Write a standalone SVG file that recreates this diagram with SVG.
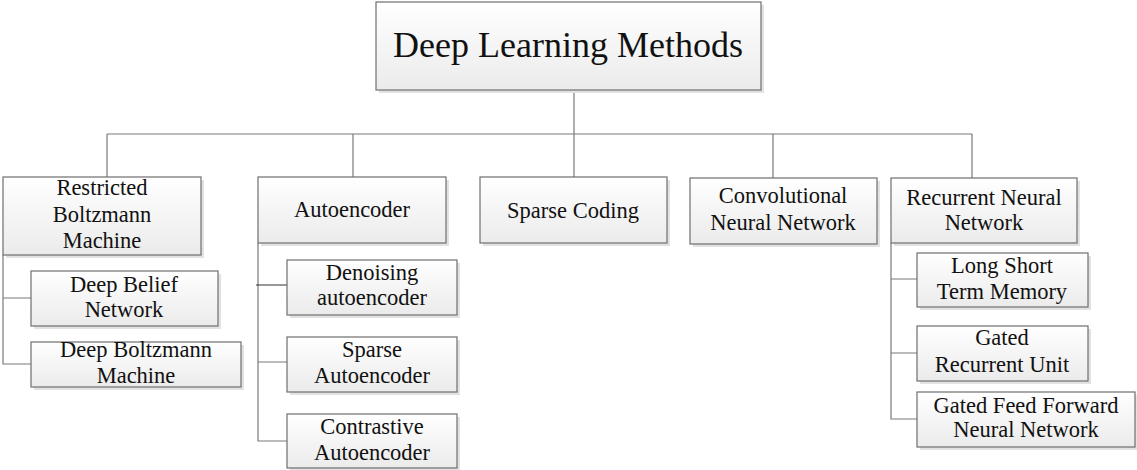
<svg xmlns="http://www.w3.org/2000/svg" width="1137" height="470" viewBox="0 0 1137 470">
<defs>
<linearGradient id="g" x1="0" y1="0" x2="0" y2="1">
<stop offset="0" stop-color="#ffffff"/>
<stop offset="1" stop-color="#ebebeb"/>
</linearGradient>
<style>
.box{fill:url(#g);stroke:#6e6e6e;stroke-width:1.2}
.sh{fill:#e2e2e2}
.t{font-family:'Liberation Serif',Tinos,'Times New Roman','DejaVu Serif',serif;font-size:22.5px;fill:#111;text-anchor:middle}
.big{font-size:36px}
.c{fill:none;stroke:#7a7a7a;stroke-width:1.2}
</style>
</defs>
<rect width="1137" height="470" fill="#fff"/>
<g id="connectors">
<path class="c" d="M574 90V134M107 134H972M107 134V177M353 134V177M574 134V177M773 134V178M972 134V178"/>
<path class="c" d="M3 255V364H31M3 298H31"/>
<path class="c" d="M258 243V441H287M258 362H287"/>
<path d="M256 285H289" fill="none" stroke="#333" stroke-width="1.2"/>
<path class="c" d="M891 243V419H917M891 279H917M891 353H917"/>
</g>
<g id="root">
<rect class="sh" x="379" y="5" width="385" height="88"/>
<rect class="box" x="376" y="2" width="385" height="88"/>
<text class="t big" x="568" y="57" font-family="Liberation Serif, serif">Deep Learning Methods</text>
</g>
<g id="rbm">
<rect class="sh" x="6" y="180" width="198" height="78"/>
<rect class="box" x="3" y="177" width="198" height="78"/>
<text class="t" x="102" y="195">Restricted</text>
<text class="t" x="102" y="222">Boltzmann</text>
<text class="t" x="102" y="248">Machine</text>
</g>
<g id="autoencoder">
<rect class="sh" x="261" y="180" width="188" height="66"/>
<rect class="box" x="258" y="177" width="188" height="66"/>
<text class="t" x="352" y="217">Autoencoder</text>
</g>
<g id="sparse-coding">
<rect class="sh" x="483" y="180" width="187" height="66"/>
<rect class="box" x="480" y="177" width="187" height="66"/>
<text class="t" x="573" y="218">Sparse Coding</text>
</g>
<g id="cnn">
<rect class="sh" x="693" y="181" width="187" height="66"/>
<rect class="box" x="690" y="178" width="187" height="66"/>
<text class="t" x="783" y="203">Convolutional</text>
<text class="t" x="783" y="230">Neural Network</text>
</g>
<g id="rnn">
<rect class="sh" x="894" y="181" width="186" height="65"/>
<rect class="box" x="891" y="178" width="186" height="65"/>
<text class="t" x="984" y="205">Recurrent Neural</text>
<text class="t" x="984" y="230">Network</text>
</g>
<g id="dbn">
<rect class="sh" x="34" y="274" width="187" height="55"/>
<rect class="box" x="31" y="271" width="187" height="55"/>
<text class="t" x="124" y="292">Deep Belief</text>
<text class="t" x="124" y="317">Network</text>
</g>
<g id="dbm">
<rect class="sh" x="34" y="345" width="210" height="45"/>
<rect class="box" x="31" y="342" width="210" height="45"/>
<text class="t" x="136" y="357">Deep Boltzmann</text>
<text class="t" x="136" y="383">Machine</text>
</g>
<g id="denoising">
<rect class="sh" x="290" y="263" width="170" height="55"/>
<rect class="box" x="287" y="260" width="170" height="55"/>
<text class="t" x="372" y="280">Denoising</text>
<text class="t" x="372" y="305">autoencoder</text>
</g>
<g id="sparse-ae">
<rect class="sh" x="290" y="340" width="170" height="55"/>
<rect class="box" x="287" y="337" width="170" height="55"/>
<text class="t" x="372" y="357">Sparse</text>
<text class="t" x="372" y="383">Autoencoder</text>
</g>
<g id="contrastive">
<rect class="sh" x="290" y="417" width="170" height="54"/>
<rect class="box" x="287" y="414" width="170" height="54"/>
<text class="t" x="372" y="434">Contrastive</text>
<text class="t" x="372" y="460">Autoencoder</text>
</g>
<g id="lstm">
<rect class="sh" x="920" y="256" width="171" height="54"/>
<rect class="box" x="917" y="253" width="171" height="54"/>
<text class="t" x="1002" y="273">Long Short</text>
<text class="t" x="1002" y="299">Term Memory</text>
</g>
<g id="gru">
<rect class="sh" x="920" y="329" width="171" height="55"/>
<rect class="box" x="917" y="326" width="171" height="55"/>
<text class="t" x="1002" y="345">Gated</text>
<text class="t" x="1002" y="372">Recurrent Unit</text>
</g>
<g id="gffnn">
<rect class="sh" x="920" y="395" width="217" height="55"/>
<rect class="box" x="917" y="392" width="218" height="55"/>
<text class="t" x="1026" y="413">Gated Feed Forward</text>
<text class="t" x="1026" y="437">Neural Network</text>
</g>
</svg>
